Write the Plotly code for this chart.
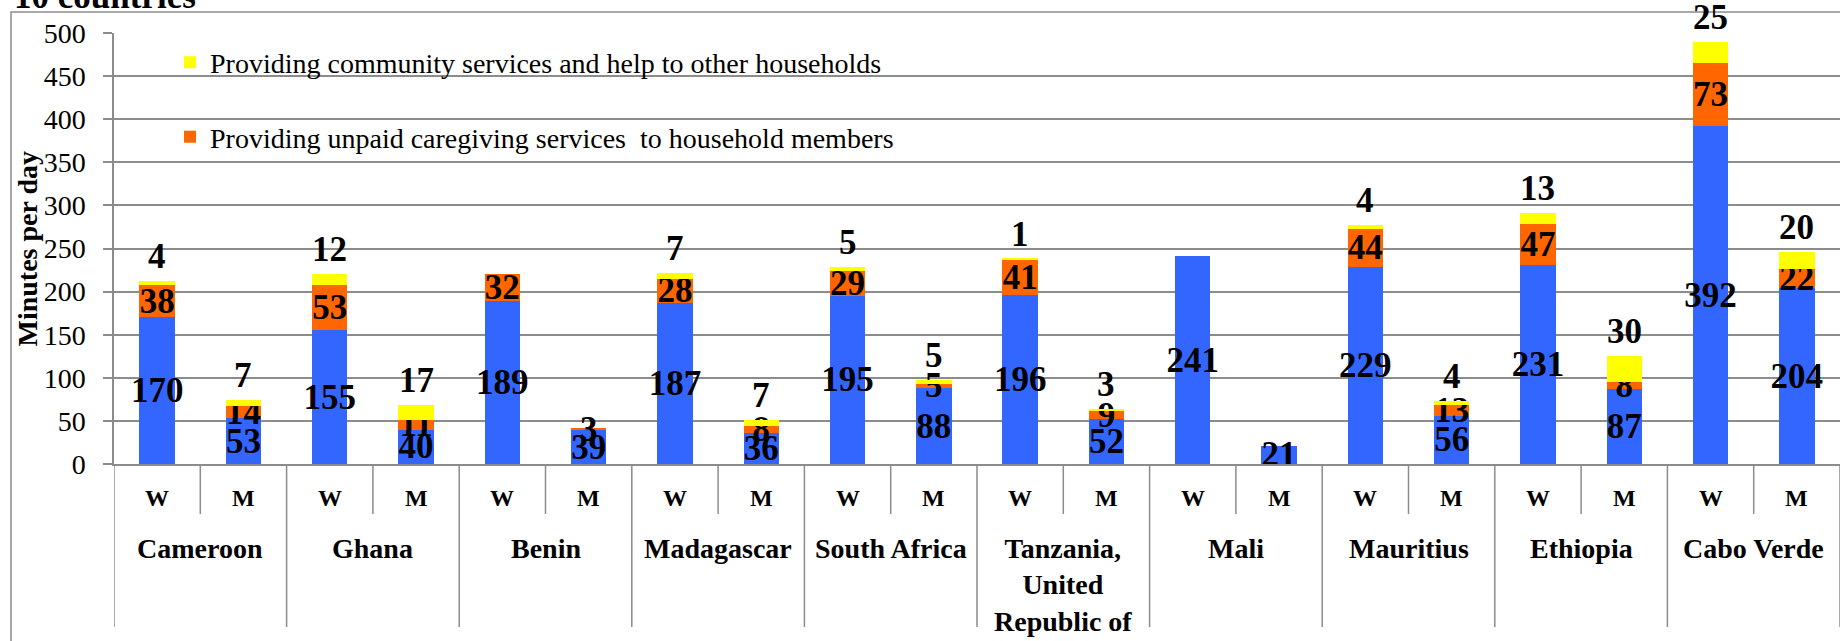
import plotly.graph_objects as go

# ---------------- data ----------------
countries = ["Cameroon", "Ghana", "Benin", "Madagascar", "South Africa",
             "Tanzania, United Republic of", "Mali", "Mauritius", "Ethiopia", "Cabo Verde"]
country_labels = ["Cameroon", "Ghana", "Benin", "Madagascar", "South Africa",
                  "Tanzania,<br>United<br>Republic of", "Mali", "Mauritius", "Ethiopia", "Cabo Verde"]
sexes = ["W", "M"]

# values per slot: W, M for each country (minutes per day)
domestic_services = [170, 53, 155, 40, 189, 39, 187, 36, 195, 88,
                     196, 52, 241, 21, 229, 56, 231, 87, 392, 204]
caregiving = [38, 14, 53, 11, 32, 3, 28, 8, 29, 5,
              41, 9, None, None, 44, 13, 47, 8, 73, 22]
community = [4, 7, 12, 17, None, None, 7, 7, 5, 5,
             1, 3, None, None, 4, 4, 13, 30, 25, 20]

y_ticks = [0, 50, 100, 150, 200, 250, 300, 350, 400, 450, 500]

name_domestic = "Providing unpaid domestic services for own final use"
name_care = "Providing unpaid caregiving services  to household members"
name_comm = "Providing community services and help to other households"

# ---------------- styling ----------------
BLUE = "#3366FF"
ORANGE = "#FF6600"
YELLOW = "#FFFF00"
GRID = "#8c8c8c"
SERIF = "Liberation Serif"

FW, FH = 1840, 641
PLOT_L, PLOT_T, PLOT_B = 114, 33, 464   # pixel edges of the plot area
ML, MR, MT = PLOT_L, 0, PLOT_T
MB = FH - PLOT_B
PW, PH = FW - ML - MR, FH - MT - MB

def px_x(p):
    return (p - PLOT_L) / PW

def px_y(p):
    return (PLOT_B - p) / PH

slots = [f"{c} {s}" for c in countries for s in sexes]
slot_sex = [s for c in countries for s in sexes]

def txt(vals):
    return ["" if v is None else str(v) for v in vals]

label_font = dict(family=SERIF, size=35, color="black", weight="bold")

fig = go.Figure()
fig.add_trace(go.Bar(
    x=slots, y=domestic_services, name=name_domestic, marker_color=BLUE,
    marker_line_width=0, text=txt(domestic_services), textposition="inside",
    insidetextanchor="middle", textangle=0, constraintext="none",
    textfont=label_font, insidetextfont=label_font, cliponaxis=False,
    showlegend=False, hoverinfo="skip"))
fig.add_trace(go.Bar(
    x=slots, y=caregiving, name=name_care, marker_color=ORANGE,
    marker_line_width=0, text=txt(caregiving), textposition="inside",
    insidetextanchor="middle", textangle=0, constraintext="none",
    textfont=label_font, insidetextfont=label_font, cliponaxis=False,
    legend="legend2", hoverinfo="skip"))
fig.add_trace(go.Bar(
    x=slots, y=community, name=name_comm, marker_color=YELLOW,
    marker_line_width=0, legend="legend", hoverinfo="skip"))

annotations = []
# community labels above the stack
for i, v in enumerate(community):
    if v is None:
        continue
    total = sum(a for a in (domestic_services[i], caregiving[i], community[i]) if a is not None)
    annotations.append(dict(x=slots[i], y=total, xref="x", yref="y", text=str(v),
                            showarrow=False, yanchor="bottom", yshift=3,
                            font=label_font))

# W / M labels
for i, s in enumerate(slot_sex):
    annotations.append(dict(x=i, y=px_y(498), xref="x", yref="paper", text=s,
                            showarrow=False, yanchor="middle",
                            font=dict(family=SERIF, size=24, color="black", weight="bold")))

# country labels
for j, c in enumerate(country_labels):
    annotations.append(dict(x=2 * j + 0.5, y=px_y(531), xref="x", yref="paper", text=c,
                            showarrow=False, yanchor="top", align="center",
                            font=dict(family=SERIF, size=28, color="black", weight="bold")))

# y-axis title
annotations.append(dict(x=px_x(27), y=0.5, xref="paper", yref="paper",
                        text="Minutes per day", textangle=-90, showarrow=False,
                        xanchor="center", yanchor="middle",
                        font=dict(family=SERIF, size=28, color="black", weight="bold")))

# partially visible title
annotations.append(dict(x=px_x(12), y=px_y(-3), xref="paper", yref="paper",
                        text="10 countries", showarrow=False,
                        xanchor="left", yanchor="middle",
                        font=dict(family=SERIF, size=35, color="black", weight="bold")))

shapes = []
# category dividers
for k in range(0, len(slots) + 1):
    long = (k % 2 == 0)
    shapes.append(dict(type="line", xref="x", yref="paper",
                       x0=k - 0.5, x1=k - 0.5, y0=0,
                       y1=px_y(627) if long else px_y(514),
                       line=dict(color=GRID, width=1.5)))
# outer chart border
shapes.append(dict(type="rect", xref="paper", yref="paper",
                   x0=px_x(11), x1=1.05, y0=px_y(700), y1=px_y(12),
                   line=dict(color=GRID, width=1.5), fillcolor="rgba(0,0,0,0)",
                   layer="below"))

fig.update_layout(
    width=FW, height=FH,
    margin=dict(l=ML, r=MR, t=MT, b=MB, pad=0),
    barmode="stack", bargap=0.59,
    plot_bgcolor="white", paper_bgcolor="white",
    annotations=annotations, shapes=shapes,
    legend=dict(x=px_x(170), y=px_y(62.5), xanchor="left", yanchor="middle",
                bgcolor="rgba(0,0,0,0)", font=dict(family=SERIF, size=28, color="black")),
    legend2=dict(x=px_x(170), y=px_y(137), xanchor="left", yanchor="middle",
                 bgcolor="rgba(0,0,0,0)", font=dict(family=SERIF, size=28, color="black")),
    xaxis=dict(type="category", range=[-0.5, len(slots) - 0.5], showticklabels=False,
               showgrid=False, showline=True, linecolor=GRID, linewidth=1.5,
               ticks="", zeroline=False, fixedrange=True),
    yaxis=dict(range=[0, 500], tickvals=y_ticks, showgrid=True, gridcolor=GRID,
               gridwidth=1.5, ticks="outside", ticklen=9, tickcolor=GRID, tickwidth=1.5,
               showline=True, linecolor=GRID, linewidth=1.5, zeroline=False,
               ticklabelstandoff=12,
               tickfont=dict(family=SERIF, size=28, color="black"), fixedrange=True),
)

fig.write_html("out.html",
               config={"displayModeBar": False},
               post_script="document.body.style.margin='0';"
                           "document.body.style.overflow='hidden';")
